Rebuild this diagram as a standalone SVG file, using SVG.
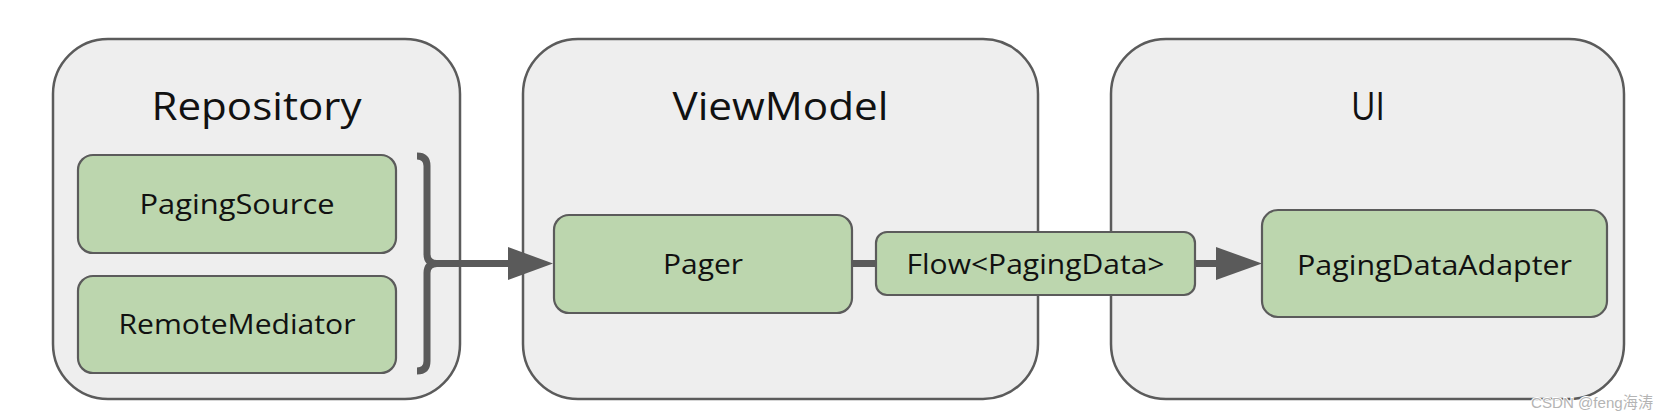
<svg xmlns="http://www.w3.org/2000/svg" width="1668" height="420" viewBox="0 0 1668 420">
<defs>
<style>
.container{fill:#eeeeee;stroke:#5b5b5b;stroke-width:2.5}
.box{fill:#bcd6ae;stroke:#5b5b5b;stroke-width:2.2}
.title{font-family:"Open Sans",Roboto,"Liberation Sans",sans-serif;font-size:38px;fill:#111;text-anchor:middle}
.label{font-family:"Open Sans",Roboto,"Liberation Sans",sans-serif;font-size:28px;fill:#111;text-anchor:middle}
.conn{stroke:#5a5a5a;stroke-width:7;fill:none}
.head{fill:#5a5a5a}
.wm{font-family:"Liberation Sans","Noto Sans CJK SC",sans-serif;font-size:15.5px;fill:#b4b4b4;stroke:#ffffff;stroke-width:2;paint-order:stroke}
</style>
</defs>
<rect width="1668" height="420" fill="#ffffff"/>
<g id="repository">
<rect class="container" x="53" y="39" width="407" height="360" rx="55"/>
<text class="title" x="256.5" y="120" textLength="210" lengthAdjust="spacingAndGlyphs">Repository</text>
</g>
<g id="viewmodel">
<rect class="container" x="523" y="39" width="515" height="360" rx="55"/>
<text class="title" x="780.5" y="120" textLength="216" lengthAdjust="spacingAndGlyphs">ViewModel</text>
</g>
<g id="ui">
<rect class="container" x="1111" y="39" width="513" height="360" rx="55"/>
<text class="title" x="1368" y="120" textLength="34" lengthAdjust="spacingAndGlyphs">UI</text>
</g>
<g id="pagingsource">
<rect class="box" x="78" y="155" width="318" height="98" rx="15"/>
<text class="label" x="237" y="214" textLength="195" lengthAdjust="spacingAndGlyphs">PagingSource</text>
</g>
<g id="remotemediator">
<rect class="box" x="78" y="276" width="318" height="97" rx="15"/>
<text class="label" x="237" y="334" textLength="237" lengthAdjust="spacingAndGlyphs">RemoteMediator</text>
</g>
<g id="pager">
<rect class="box" x="554" y="215" width="298" height="98" rx="15"/>
<text class="label" x="703" y="274" textLength="80" lengthAdjust="spacingAndGlyphs">Pager</text>
</g>
<g id="flow">
<rect class="box" x="876" y="232" width="319" height="63" rx="11"/>
<text class="label" x="1035.5" y="274" textLength="258" lengthAdjust="spacingAndGlyphs">Flow&lt;PagingData&gt;</text>
</g>
<g id="pagingdataadapter">
<rect class="box" x="1262" y="210" width="345" height="107" rx="16"/>
<text class="label" x="1434.5" y="275" textLength="275" lengthAdjust="spacingAndGlyphs">PagingDataAdapter</text>
</g>
<g id="connectors">
<path class="conn" d="M417,156 Q427,156 427,166 L427,254 Q427,263.5 437,263.5 Q427,263.5 427,273 L427,361 Q427,371 417,371"/>
<line class="conn" x1="430" y1="263.5" x2="512" y2="263.5"/>
<polygon class="head" points="508,247 553,263.5 508,280"/>
<line class="conn" x1="852" y1="263.5" x2="876" y2="263.5"/>
<line class="conn" x1="1195" y1="263.5" x2="1220" y2="263.5"/>
<polygon class="head" points="1216,247 1262,263.5 1216,280"/>
</g>
<text class="wm" x="1531" y="408" textLength="122" lengthAdjust="spacingAndGlyphs">CSDN @feng海涛</text>
</svg>
